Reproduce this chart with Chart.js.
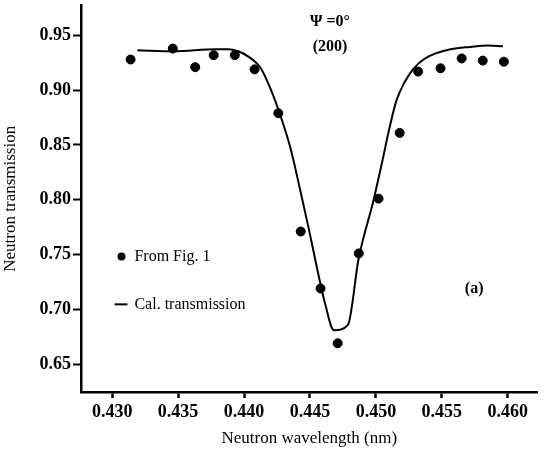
<!DOCTYPE html>
<html>
<head>
<meta charset="utf-8">
<script src="https://cdn.jsdelivr.net/npm/chart.js@4"></script>
<style>
  html, body { margin: 0; padding: 0; background: #fff; }
  #wrap { width: 543px; height: 453px; }
</style>
</head>
<body>
<div id="wrap"><canvas id="chart" width="543" height="453"></canvas></div>
<script>
// Pontos medidos (From Fig. 1)
const pointX = [0.4314, 0.4346, 0.4363, 0.4377, 0.4393, 0.4408, 0.4426, 0.4443, 0.4458,
  0.4471, 0.4487, 0.4502, 0.4518, 0.4532, 0.4549, 0.4565, 0.4581, 0.4597];
const pointY = [0.928, 0.938, 0.921, 0.932, 0.932, 0.919, 0.879, 0.771, 0.719,
  0.669, 0.751, 0.801, 0.861, 0.917, 0.920, 0.929, 0.927, 0.926];

// Curva calculada (Cal. transmission)
const lineX = [0.43191, 0.43468, 0.43783, 0.43880, 0.43955, 0.44030, 0.44127, 0.44202,
  0.44277, 0.44352, 0.44427, 0.44494, 0.44554, 0.44614, 0.44682, 0.44787, 0.44869,
  0.44981, 0.45049, 0.45101, 0.45154, 0.45213, 0.45281, 0.45363, 0.45453, 0.45566,
  0.45715, 0.45850, 0.45963];
const lineY = [0.9364, 0.9355, 0.9373, 0.9373, 0.9355, 0.9309, 0.9200, 0.9009,
  0.8764, 0.8473, 0.8082, 0.7718, 0.7373, 0.7055, 0.6809, 0.6855, 0.7464,
  0.7991, 0.8355, 0.8645, 0.8900, 0.9064, 0.9191, 0.9282, 0.9336, 0.9373,
  0.9395, 0.9409, 0.9400];

// Marcas dos eixos
const xTicks = [0.430, 0.435, 0.440, 0.445, 0.450, 0.455, 0.460];
const yTicks = [0.65, 0.70, 0.75, 0.80, 0.85, 0.90, 0.95];

const serif = "'Liberation Serif', 'Times New Roman', serif";

// Textos dentro da área do gráfico e legenda
const notes = {
  id: "notes",
  afterDraw(chart) {
    const ctx = chart.ctx;
    const x = chart.scales.x, y = chart.scales.y;
    ctx.save();
    ctx.fillStyle = "#000";
    ctx.strokeStyle = "#000";
    ctx.textBaseline = "middle";

    ctx.textAlign = "center";
    ctx.font = "bold 16px " + serif;
    ctx.fillText("Ψ =0°", x.getPixelForValue(0.44652), y.getPixelForValue(0.9627));
    ctx.fillText("(200)", x.getPixelForValue(0.44652), y.getPixelForValue(0.9400));
    ctx.fillText("(a)", x.getPixelForValue(0.45745), y.getPixelForValue(0.7191));

    // legenda
    ctx.textAlign = "left";
    ctx.font = "16px " + serif;
    ctx.beginPath();
    ctx.arc(x.getPixelForValue(0.43071), y.getPixelForValue(0.7482), 4, 0, Math.PI * 2);
    ctx.fill();
    ctx.fillText("From Fig. 1", x.getPixelForValue(0.43169), y.getPixelForValue(0.7482));

    ctx.lineWidth = 2;
    ctx.beginPath();
    ctx.moveTo(x.getPixelForValue(0.43019), y.getPixelForValue(0.7045));
    ctx.lineTo(x.getPixelForValue(0.43116), y.getPixelForValue(0.7045));
    ctx.stroke();
    ctx.fillText("Cal. transmission", x.getPixelForValue(0.43169), y.getPixelForValue(0.7045));
    ctx.restore();
  }
};

new Chart(document.getElementById("chart"), {
  type: "scatter",
  data: {
    datasets: [
      {
        label: "From Fig. 1",
        data: pointX.map((v, i) => ({ x: v, y: pointY[i] })),
        backgroundColor: "#000",
        borderColor: "#000",
        pointRadius: 4.5,
        showLine: false
      },
      {
        label: "Cal. transmission",
        data: lineX.map((v, i) => ({ x: v, y: lineY[i] })),
        borderColor: "#000",
        borderWidth: 2,
        pointRadius: 0,
        showLine: true,
        cubicInterpolationMode: "monotone"
      }
    ]
  },
  options: {
    responsive: false,
    animation: false,
    layout: { padding: { top: 4, right: 0, left: 0, bottom: 0 } },
    plugins: { legend: { display: false }, tooltip: { enabled: false } },
    scales: {
      x: {
        type: "linear",
        min: 0.42764,
        max: 0.46225,
        afterBuildTicks: (s) => { s.ticks = xTicks.map(v => ({ value: v })); },
        afterFit: (s) => { s.height = 61; s.paddingLeft = 0; s.paddingRight = 0; },
        border: { display: true, color: "#000", width: 2.5 },
        grid: { drawOnChartArea: false, color: "#000", tickLength: 6, tickWidth: 2.5 },
        ticks: {
          color: "#000",
          padding: 4,
          font: { family: serif, size: 18, weight: "bold" },
          callback: (v) => v.toFixed(3)
        },
        title: {
          display: true,
          text: "Neutron wavelength (nm)",
          color: "#000",
          padding: { top: 0, bottom: 4 },
          font: { family: serif, size: 17 }
        }
      },
      y: {
        type: "linear",
        min: 0.6245,
        max: 0.9773,
        afterBuildTicks: (s) => { s.ticks = yTicks.map(v => ({ value: v })); },
        afterFit: (s) => { s.width = 81; s.paddingTop = 0; s.paddingBottom = 0; },
        border: { display: true, color: "#000", width: 2.5 },
        grid: { drawOnChartArea: false, color: "#000", tickLength: 8, tickWidth: 2 },
        ticks: {
          color: "#000",
          padding: 2,
          font: { family: serif, size: 18, weight: "bold" },
          callback: (v) => v.toFixed(2)
        },
        title: {
          display: true,
          text: "Neutron transmission",
          color: "#000",
          padding: { top: 0, bottom: 2 },
          font: { family: serif, size: 17 }
        }
      }
    }
  },
  plugins: [notes]
});
</script>
</body>
</html>
